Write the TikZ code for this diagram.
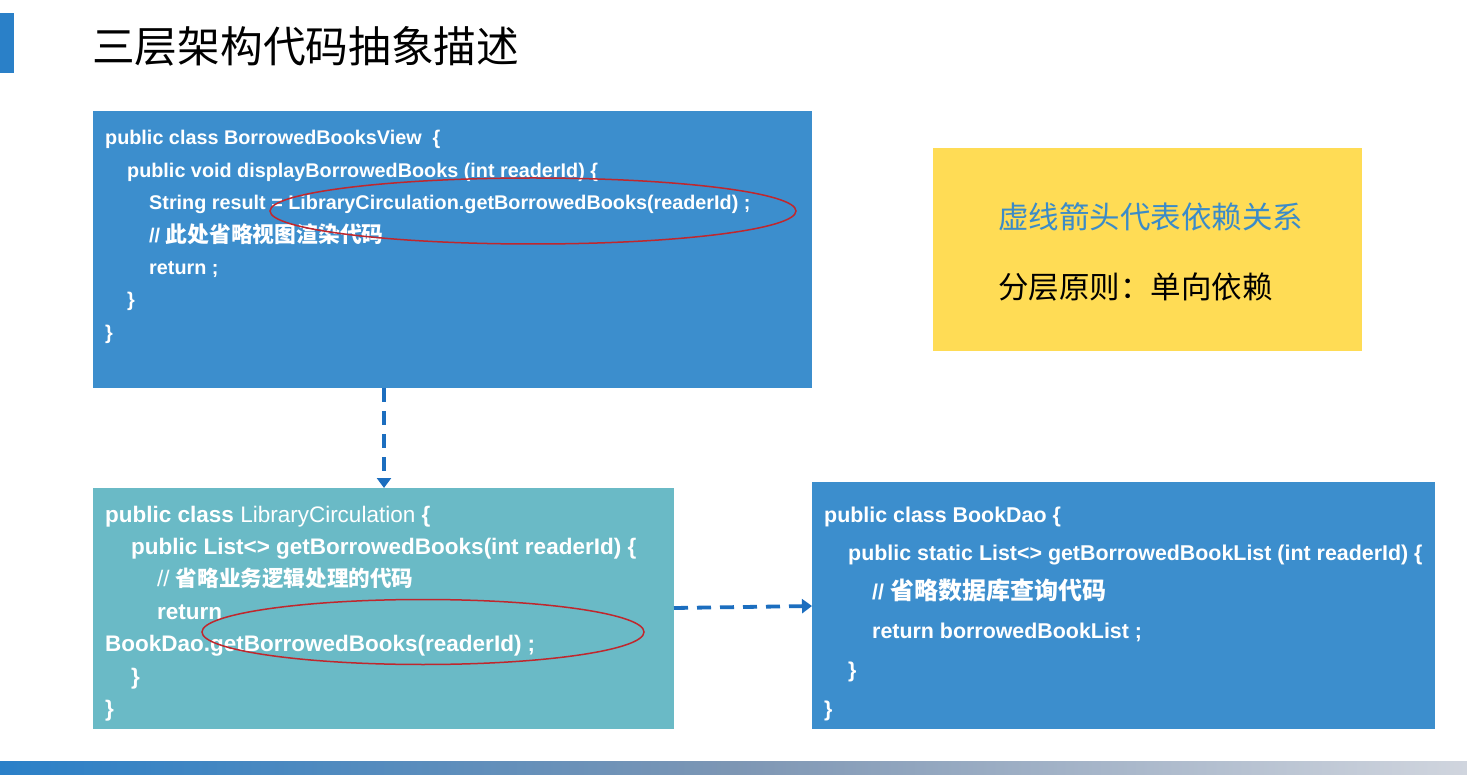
\documentclass[tikz,border=0pt]{standalone}
\usepackage{fontspec}
\setmainfont{Liberation Sans}
\newfontfamily\cjk{Noto Sans CJK SC}
\newfontfamily\cjkb{Noto Sans CJK SC Bold}
\usetikzlibrary{arrows.meta,shapes.geometric}
\definecolor{boxblue}{HTML}{3C8ECD}
\definecolor{boxteal}{HTML}{6ABAC6}
\definecolor{boxyellow}{HTML}{FFDC55}
\definecolor{arrowblue}{HTML}{1C6EBF}
\definecolor{barblue}{HTML}{2A80C8}
\definecolor{ovalred}{HTML}{C0272D}
\definecolor{noteblue}{HTML}{3B8BC8}
\newcommand\zhb[2]{{\cjkb\fontsize{#1}{#1}\selectfont #2}}
\tikzset{
  panel/.style={draw=none, inner sep=0, outer sep=0, rectangle},
  codeA/.style={anchor=base west, inner sep=0, text=white, font=\bfseries\fontsize{19.8}{20}\selectfont},
  codeB/.style={anchor=base west, inner sep=0, text=white, font=\bfseries\fontsize{22.5}{23}\selectfont},
  codeC/.style={anchor=base west, inner sep=0, text=white, font=\bfseries\fontsize{21.4}{22}\selectfont},
  dep/.style={draw=arrowblue, line width=3.8pt, dash pattern=on 14pt off 9pt, -{Triangle[length=10pt,width=14pt]}},
  oval/.style={draw=ovalred, line width=1.5pt, ellipse, inner sep=0},
  note/.style={anchor=west, inner sep=0, font=\cjk\fontsize{30.5}{31}\selectfont}
}
\begin{document}
\begin{tikzpicture}[x=1pt,y=-1pt]
\fill[white] (0,0) rectangle (1467,775);
\useasboundingbox (0,0) rectangle (1467,775);
% header
\fill[barblue] (0,13) rectangle (14,73);
\node[anchor=west, inner sep=0, font=\cjk\fontsize{42.7}{43}\selectfont] (title) at (92,46) {三层架构代码抽象描述};
% bottom bar
\shade[left color=barblue, right color={rgb,255:red,208;green,213;blue,222}, middle color={rgb,255:red,125;green,150;blue,180}] (0,761) rectangle (1467,775);
% panels
\node[panel, fill=boxblue, minimum width=719pt, minimum height=277pt, anchor=north west] (view) at (93,111) {};
\node[panel, fill=boxteal, minimum width=581pt, minimum height=241pt, anchor=north west] (logic) at (93,488) {};
\node[panel, fill=boxblue, minimum width=623pt, minimum height=247pt, anchor=north west] (dao) at (812,482) {};
\node[panel, fill=boxyellow, minimum width=429pt, minimum height=203pt, anchor=north west] (legend) at (933,148) {};
% view code
\node[codeA] (v1) at (105,145) {public class BorrowedBooksView\ \ \{};
\node[codeA] (v2) at (127,177.4) {public void displayBorrowedBooks (int readerId) \{};
\node[codeA] (v3) at (149,209.8) {String result = LibraryCirculation.getBorrowedBooks(readerId) ;};
\node[codeA] (v4) at (149,242.2) {// \zhb{21.8}{此处省略视图渲染代码}};
\node[codeA] (v5) at (149,274.6) {return ;};
\node[codeA] (v6) at (127,307) {\}};
\node[codeA] (v7) at (105,339.4) {\}};
% logic code
\node[codeB] (l1) at (105,522) {public class {\mdseries LibraryCirculation} \{};
\node[codeB] (l2) at (131,554.4) {public List<> getBorrowedBooks(int readerId) \{};
\node[codeB] (l3) at (157,586.8) {{\mdseries //} \zhb{21.6}{省略业务逻辑处理的代码}};
\node[codeB] (l4) at (157,619.2) {return};
\node[codeB] (l5) at (105,651.6) {BookDao.getBorrowedBooks(readerId) ;};
\node[codeB] (l6) at (131,684) {\}};
\node[codeB] (l7) at (105,716.4) {\}};
% dao code
\node[codeC] (d1) at (824,522) {public class BookDao \{};
\node[codeC] (d2) at (848,560.8) {public static List<> getBorrowedBookList (int readerId) \{};
\node[codeC] (d3) at (872,599.6) {// \zhb{24}{省略数据库查询代码}};
\node[codeC] (d4) at (872,638.4) {return borrowedBookList ;};
\node[codeC] (d5) at (848,677.2) {\}};
\node[codeC] (d6) at (824,716) {\}};
% legend
\node[note, text=noteblue] (n1) at (998,217) {虚线箭头代表依赖关系};
\node[note, text=black] (n2) at (998,287) {分层原则：单向依赖};
% highlight ovals
\node[oval, minimum width=526pt, minimum height=66pt] (o1) at (533,211) {};
\node[oval, minimum width=442pt, minimum height=65pt] (o2) at (423,632) {};
% dependency arrows
\coordinate (a1s) at (384,388);
\coordinate (a1e) at (384,488);
\draw[dep] (a1s) -- (a1e);
\coordinate (a2s) at (674,608);
\coordinate (a2e) at (812,606);
\draw[dep] (a2s) -- (a2e);
\end{tikzpicture}
\end{document}
